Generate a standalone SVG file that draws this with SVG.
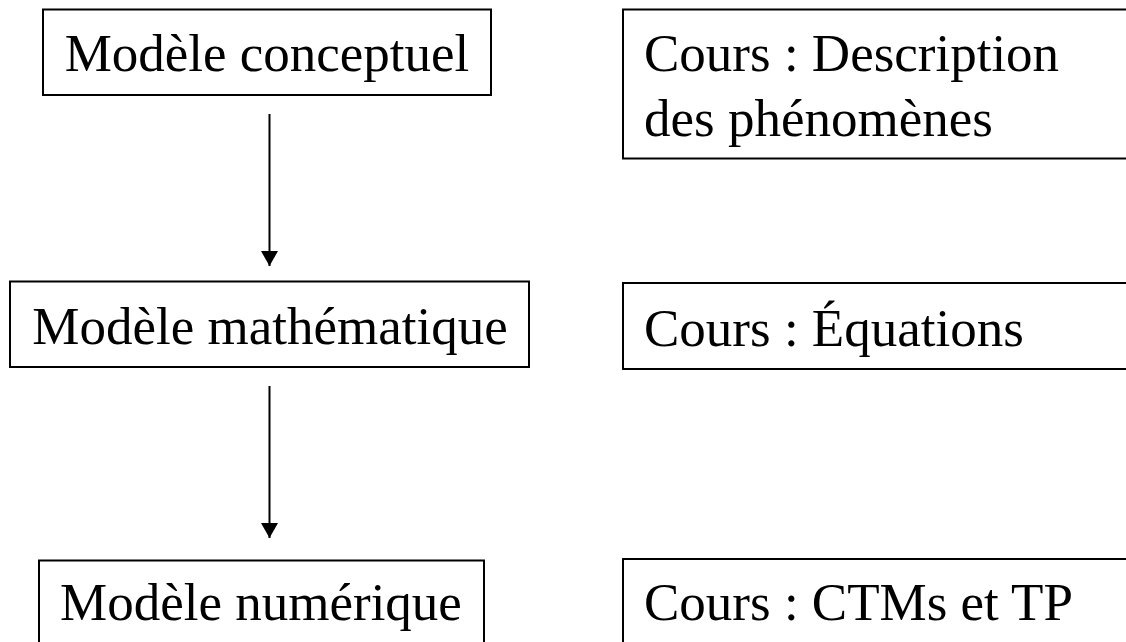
<svg xmlns="http://www.w3.org/2000/svg" width="1126" height="642" viewBox="0 0 1126 642">
<defs>
<style>
.box{fill:#fff;stroke:#000;stroke-width:2}
.t{font-family:"Liberation Serif","Times New Roman",serif;font-size:53px;fill:#000}
.c{text-anchor:middle}
.conn{stroke:#000;stroke-width:2;fill:none}
</style>
<marker id="ah" markerWidth="15" markerHeight="17" refX="15" refY="8.5" orient="auto" markerUnits="userSpaceOnUse" viewBox="0 0 15 17">
<path d="M0,0 L15,8.5 L0,17 Z" fill="#000"/>
</marker>
</defs>
<rect width="1126" height="642" fill="#fff"/>
<g id="connectors">
<line class="conn" x1="269.5" y1="114" x2="269.5" y2="266" marker-end="url(#ah)"/>
<line class="conn" x1="269.5" y1="386" x2="269.5" y2="538" marker-end="url(#ah)"/>
</g>
<g id="n-conceptuel">
<rect class="box" x="43" y="9.5" width="448" height="85.5"/>
<text class="t c" x="267" y="71">Modèle conceptuel</text>
</g>
<g id="n-mathematique">
<rect class="box" x="10" y="281.5" width="519" height="85.5"/>
<text class="t c" x="270" y="344">Modèle mathématique</text>
</g>
<g id="n-numerique">
<rect class="box" x="39" y="560.5" width="445" height="100"/>
<text class="t c" x="261" y="620">Modèle numérique</text>
</g>
<g id="c-description">
<rect class="box" x="623" y="9.5" width="520" height="149"/>
<text class="t" x="644" y="71">Cours : Description</text>
<text class="t" x="644" y="136">des phénomènes</text>
</g>
<g id="c-equations">
<rect class="box" x="623" y="283" width="520" height="86"/>
<text class="t" x="644" y="346">Cours : Équations</text>
</g>
<g id="c-ctms">
<rect class="box" x="623" y="559" width="520" height="100"/>
<text class="t" x="644" y="620">Cours : CTMs et TP</text>
</g>
</svg>
